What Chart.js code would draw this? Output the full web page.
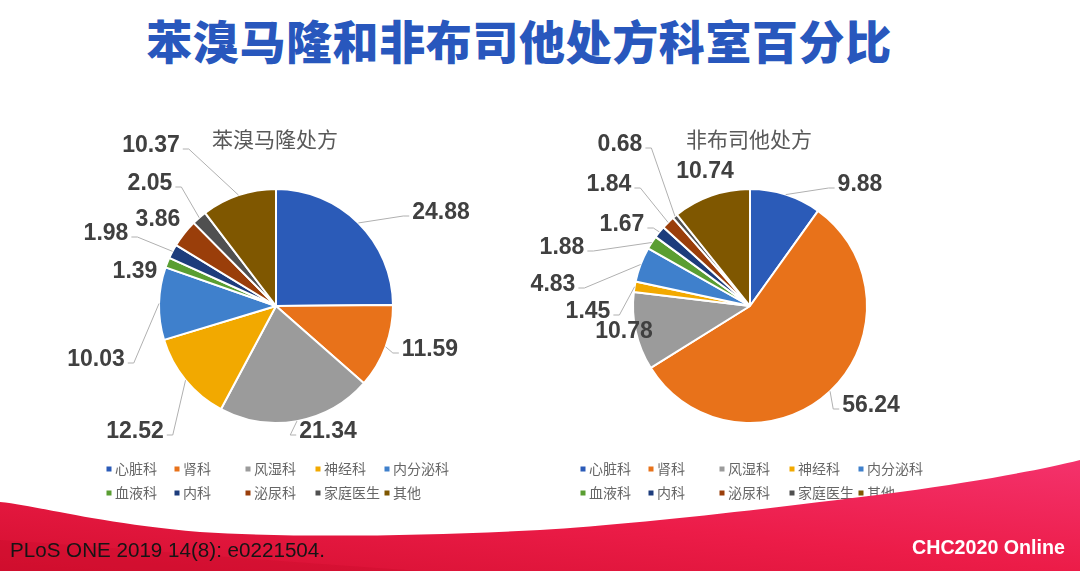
<!DOCTYPE html>
<html>
<head>
<meta charset="utf-8">
<script src="https://cdn.jsdelivr.net/npm/chart.js@4.4.0/dist/chart.umd.min.js"></script>
<style>
  html, body { margin: 0; padding: 0; background: #ffffff; }
  #page { position: relative; width: 1080px; height: 571px; overflow: hidden; background: #ffffff; }
  #title { position: absolute; left: -21px; top: 14px; width: 1080px; text-align: center;
    font-family: "Noto Sans CJK SC", sans-serif; font-weight: 900; font-size: 46px; line-height: 50px;
    color: #2857BD; letter-spacing: 0.6px; white-space: nowrap; }
  .cv { position: absolute; }
  #swoosh { position: absolute; left: 0; top: 0; pointer-events: none; }
</style>
</head>
<body>
<div id="page">
  <div id="title">苯溴马隆和非布司他处方科室百分比</div>
  <canvas id="c1" class="cv" width="520" height="420" style="left:0px;top:100px;width:520px;height:420px;"></canvas>
  <canvas id="c2" class="cv" width="560" height="420" style="left:520px;top:100px;width:560px;height:420px;"></canvas>
  <svg id="swoosh" width="1080" height="571" viewBox="0 0 1080 571">
    <defs>
      <linearGradient id="rg" x1="0" y1="1" x2="1" y2="0">
        <stop offset="0" stop-color="#D40F2F"/>
        <stop offset="0.5" stop-color="#EC1C48"/>
        <stop offset="1" stop-color="#F4326C"/>
      </linearGradient>
    </defs>
    <path d="M0,502 C40,506 90,522 200,532 C300,538 420,536 540,530 C640,524 800,505 900,492 C980,481 1040,470 1080,460 L1080,571 L0,571 Z" fill="url(#rg)"/>
    <path d="M0,540 C120,548 260,560 420,571 L0,571 Z" fill="#C80C2A" opacity="0.35"/>
    <text x="10" y="557" font-family="Liberation Sans, Arial, sans-serif" font-size="20" fill="#151515" textLength="315" lengthAdjust="spacingAndGlyphs">PLoS ONE 2019 14(8): e0221504.</text>
    <text x="912" y="554" font-family="Liberation Sans, Arial, sans-serif" font-size="21" font-weight="bold" fill="#ffffff" textLength="153" lengthAdjust="spacingAndGlyphs">CHC2020 Online</text>
  </svg>
</div>
<script>
// ---- data ----
const categories = ['心脏科','肾科','风湿科','神经科','内分泌科','血液科','内科','泌尿科','家庭医生','其他'];
const benzTitle = '苯溴马隆处方';
const febuTitle = '非布司他处方';
const benzValues = [24.88, 11.59, 21.34, 12.52, 10.03, 1.39, 1.98, 3.86, 2.05, 10.37];
const febuValues = [9.88, 56.24, 10.78, 1.45, 4.83, 1.88, 1.67, 1.84, 0.68, 10.74];
const sliceColors = ['#2B5BB8','#E8721A','#9B9B9B','#F2A900','#3F80CC','#5A9E32','#1D3C7C','#9A3E0A','#505050','#7F5700'];

// ---- layout (label offsets from pie centre: dx, dy, leader flag) ----
const benzLabelPos = [[165,-93,1],[154,44,1],[52,126,1],[-141,126,1],[-180,54,1],[-141,-34,0],[-170,-72,1],[-118,-86,0],[-126,-122,1],[-125,-160,1]];
const febuLabelPos = [[110,-121,1],[121,100,1],[-126,26,0],[-162,6,1],[-197,-21,1],[-188,-58,1],[-128,-81,1],[-141,-121,1],[-130,-161,1],[-45,-134,0]];
const legendColX = [-167, -99, -28, 42, 111];
const legendRowY = [163, 187];

const decoPlugin = {
  id: 'deco',
  afterDatasetsDraw(chart, args, opts) {
    const ctx = chart.ctx;
    const meta = chart.getDatasetMeta(0);
    const arcs = meta.data;
    if (!arcs.length) return;
    const p0 = arcs[0].getProps(['x','y','outerRadius']);
    const cx = p0.x, cy = p0.y;
    const values = chart.data.datasets[0].data;
    ctx.save();
    ctx.font = 'bold 23px "Liberation Sans", Arial, sans-serif';
    ctx.textAlign = 'center';
    ctx.textBaseline = 'middle';
    arcs.forEach((arc, i) => {
      const p = arc.getProps(['x','y','startAngle','endAngle','outerRadius']);
      const mid = (p.startAngle + p.endAngle) / 2;
      const exX = p.x + Math.cos(mid) * p.outerRadius;
      const exY = p.y + Math.sin(mid) * p.outerRadius;
      const pos = opts.labelPos[i];
      const tx = cx + pos[0], ty = cy + pos[1];
      const txt = values[i].toFixed(2);
      const w = ctx.measureText(txt).width;
      if (pos[2]) {
        const side = pos[0] < 0 ? 1 : -1;
        const ax = tx + side * (w / 2 + 3);
        const ay = ty + 3;
        ctx.strokeStyle = '#B0B0B0';
        ctx.lineWidth = 1;
        ctx.beginPath();
        ctx.moveTo(ax, ay);
        ctx.lineTo(ax + side * 6, ay);
        ctx.lineTo(exX, exY);
        ctx.stroke();
      }
      ctx.fillStyle = '#404040';
      ctx.fillText(txt, tx, ty);
    });
    ctx.font = '21px "Noto Sans CJK SC", sans-serif';
    ctx.fillStyle = '#595959';
    ctx.fillText(opts.title, cx - 1, cy - 167);
    ctx.font = '14px "Noto Sans CJK SC", sans-serif';
    ctx.textAlign = 'left';
    chart.data.labels.forEach((lab, i) => {
      const r = Math.floor(i / 5), c = i % 5;
      const mx = cx + legendColX[c];
      const my = cy + legendRowY[r];
      ctx.fillStyle = sliceColors[i];
      ctx.fillRect(mx - 2.5, my - 2.5, 5, 5);
      ctx.fillStyle = '#666666';
      ctx.fillText(lab, mx + 6, my);
    });
    ctx.restore();
  }
};

function makePie(id, values, title, labelPos, padding) {
  return new Chart(document.getElementById(id), {
    type: 'pie',
    data: {
      labels: categories,
      datasets: [{
        data: values,
        backgroundColor: sliceColors,
        borderColor: '#ffffff',
        borderWidth: 2,
        radius: 117
      }]
    },
    options: {
      responsive: false,
      animation: false,
      events: [],
      layout: { padding: padding },
      plugins: {
        legend: { display: false },
        tooltip: { enabled: false },
        title: { display: false },
        deco: { title: title, labelPos: labelPos }
      }
    },
    plugins: [decoPlugin]
  });
}

makePie('c1', benzValues, benzTitle, benzLabelPos, { left: 32, right: 0, top: 0, bottom: 8 });
makePie('c2', febuValues, febuTitle, febuLabelPos, { left: 0, right: 100, top: 0, bottom: 8 });
</script>
</body>
</html>
